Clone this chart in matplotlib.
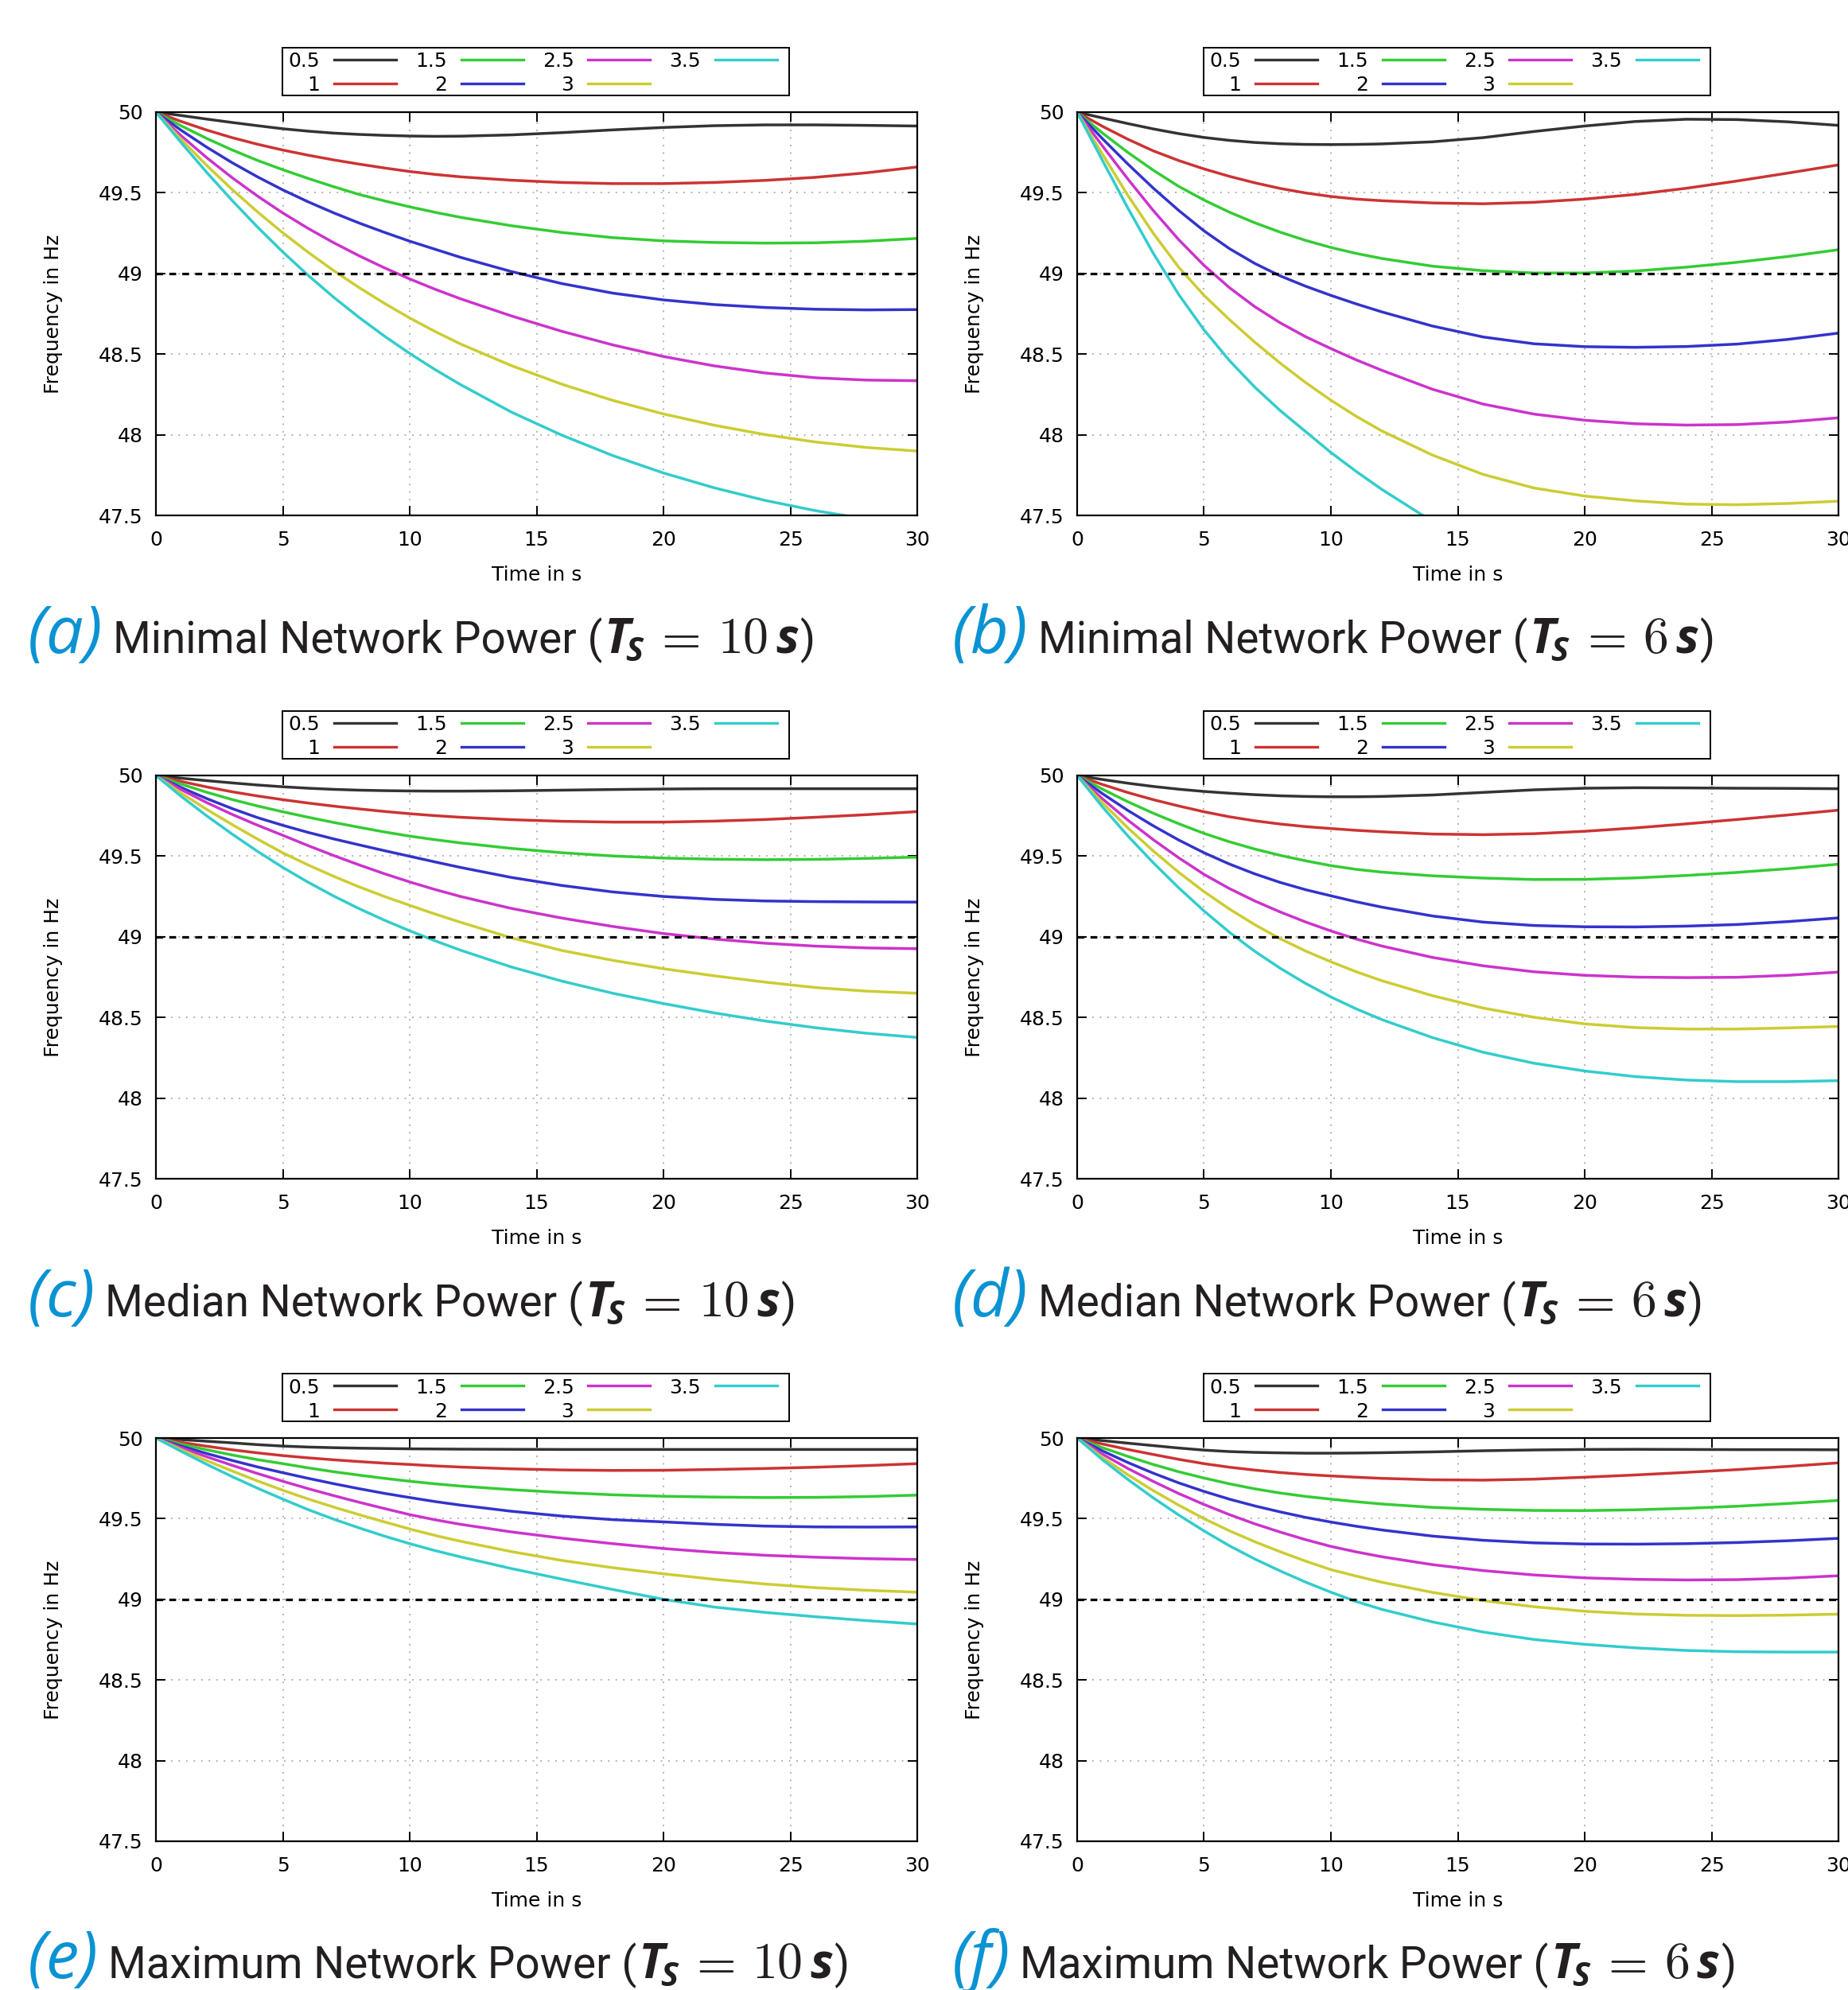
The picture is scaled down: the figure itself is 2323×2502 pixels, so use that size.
import numpy as np
import matplotlib
matplotlib.use("Agg")
import matplotlib.pyplot as plt
from matplotlib.patches import Rectangle
from matplotlib.lines import Line2D

# ---------------- data ----------------
T = [0, 1, 2, 3, 4, 5, 6, 7, 8, 9, 10, 11, 12, 14, 16, 18, 20, 22, 24, 26, 28, 30]
LABELS = ["0.5", "1", "1.5", "2", "2.5", "3", "3.5"]
COLORS = ["#333333", "#cc3333", "#33cc33", "#3333cc", "#cc33cc", "#cccc33", "#33cccc"]
NAN = float("nan")

# (a) Minimal network power, Ts = 10 s
A_05 = [50, 49.979, 49.957, 49.936, 49.916, 49.897, 49.882, 49.87, 49.862, 49.856, 49.852, 49.85, 49.851, 49.859, 49.873, 49.89, 49.905, 49.916, 49.921, 49.921, 49.918, 49.914]
A_10 = [50, 49.942, 49.889, 49.842, 49.801, 49.765, 49.733, 49.704, 49.678, 49.654, 49.632, 49.614, 49.599, 49.578, 49.564, 49.557, 49.557, 49.564, 49.577, 49.596, 49.624, 49.66]
A_15 = [50, 49.915, 49.837, 49.766, 49.701, 49.643, 49.589, 49.538, 49.49, 49.45, 49.413, 49.379, 49.348, 49.296, 49.254, 49.222, 49.202, 49.192, 49.188, 49.19, 49.2, 49.217]
A_20 = [50, 49.887, 49.783, 49.687, 49.599, 49.518, 49.444, 49.376, 49.313, 49.255, 49.2, 49.15, 49.1, 49.012, 48.937, 48.878, 48.836, 48.807, 48.789, 48.778, 48.774, 48.776]
A_25 = [50, 49.853, 49.718, 49.594, 49.48, 49.375, 49.279, 49.191, 49.11, 49.035, 48.966, 48.902, 48.843, 48.737, 48.641, 48.557, 48.485, 48.427, 48.383, 48.353, 48.339, 48.335]
A_30 = [50, 49.83, 49.67, 49.521, 49.382, 49.252, 49.131, 49.018, 48.913, 48.815, 48.724, 48.64, 48.563, 48.429, 48.313, 48.213, 48.129, 48.059, 48.001, 47.955, 47.921, 47.899]
A_35 = [50, 49.81, 49.627, 49.453, 49.288, 49.133, 48.988, 48.853, 48.728, 48.612, 48.504, 48.404, 48.311, 48.141, 47.997, 47.871, 47.763, 47.671, 47.593, 47.529, 47.477, 47.437]

# (b) Minimal network power, Ts = 6 s
B_05 = [50, 49.964, 49.929, 49.896, 49.867, 49.843, 49.825, 49.812, 49.804, 49.8, 49.799, 49.8, 49.803, 49.816, 49.842, 49.88, 49.914, 49.942, 49.956, 49.954, 49.94, 49.918]
B_10 = [50, 49.912, 49.832, 49.76, 49.7, 49.648, 49.602, 49.562, 49.527, 49.499, 49.477, 49.461, 49.451, 49.437, 49.432, 49.441, 49.461, 49.49, 49.528, 49.573, 49.622, 49.673]
B_15 = [50, 49.87, 49.75, 49.64, 49.54, 49.455, 49.38, 49.314, 49.256, 49.205, 49.161, 49.124, 49.093, 49.045, 49.017, 49.003, 49.003, 49.015, 49.039, 49.069, 49.105, 49.147]
B_20 = [50, 49.835, 49.678, 49.529, 49.391, 49.264, 49.154, 49.062, 48.985, 48.921, 48.864, 48.811, 48.762, 48.674, 48.606, 48.564, 48.546, 48.542, 48.547, 48.562, 48.591, 48.63]
B_25 = [50, 49.79, 49.585, 49.39, 49.21, 49.05, 48.912, 48.794, 48.694, 48.608, 48.534, 48.464, 48.40, 48.282, 48.19, 48.128, 48.09, 48.068, 48.06, 48.063, 48.079, 48.105]
B_30 = [50, 49.738, 49.484, 49.249, 49.039, 48.864, 48.714, 48.574, 48.444, 48.324, 48.214, 48.114, 48.024, 47.874, 47.754, 47.67, 47.62, 47.59, 47.57, 47.566, 47.574, 47.588]
B_35 = [50, 49.7, 49.405, 49.125, 48.87, 48.65, 48.46, 48.295, 48.15, 48.02, 47.89, 47.772, 47.662, 47.462, 47.286, NAN, NAN, NAN, NAN, NAN, NAN, NAN]

# (c) Median network power, Ts = 10 s
C_05 = [50, 49.983, 49.968, 49.954, 49.941, 49.93, 49.921, 49.914, 49.909, 49.906, 49.904, 49.903, 49.903, 49.905, 49.909, 49.913, 49.916, 49.918, 49.918, 49.918, 49.918, 49.918]
C_10 = [50, 49.963, 49.929, 49.899, 49.873, 49.85, 49.829, 49.81, 49.793, 49.777, 49.763, 49.751, 49.741, 49.726, 49.716, 49.711, 49.711, 49.717, 49.727, 49.741, 49.757, 49.776]
C_15 = [50, 49.946, 49.896, 49.851, 49.811, 49.775, 49.741, 49.709, 49.679, 49.65, 49.624, 49.602, 49.582, 49.548, 49.521, 49.501, 49.488, 49.481, 49.478, 49.48, 49.486, 49.494]
C_20 = [50, 49.925, 49.857, 49.795, 49.739, 49.691, 49.647, 49.607, 49.57, 49.534, 49.499, 49.464, 49.43, 49.368, 49.318, 49.278, 49.25, 49.232, 49.222, 49.218, 49.216, 49.215]
C_25 = [50, 49.912, 49.832, 49.759, 49.692, 49.629, 49.565, 49.504, 49.446, 49.391, 49.34, 49.293, 49.25, 49.176, 49.116, 49.064, 49.02, 48.986, 48.96, 48.942, 48.931, 48.926]
C_30 = [50, 49.89, 49.79, 49.696, 49.606, 49.52, 49.445, 49.375, 49.31, 49.25, 49.195, 49.141, 49.09, 48.994, 48.915, 48.854, 48.802, 48.758, 48.719, 48.685, 48.663, 48.65]
C_35 = [50, 49.87, 49.75, 49.637, 49.53, 49.43, 49.338, 49.253, 49.175, 49.103, 49.037, 48.975, 48.917, 48.813, 48.725, 48.65, 48.586, 48.528, 48.478, 48.436, 48.402, 48.376]

# (d) Median network power, Ts = 6 s
D_05 = [50, 49.975, 49.952, 49.932, 49.915, 49.901, 49.89, 49.881, 49.874, 49.87, 49.868, 49.868, 49.87, 49.879, 49.895, 49.911, 49.921, 49.924, 49.923, 49.921, 49.92, 49.918]
D_10 = [50, 49.944, 49.894, 49.85, 49.811, 49.775, 49.744, 49.719, 49.699, 49.683, 49.671, 49.66, 49.651, 49.637, 49.633, 49.639, 49.654, 49.675, 49.7, 49.727, 49.755, 49.785]
D_15 = [50, 49.915, 49.837, 49.766, 49.701, 49.641, 49.589, 49.544, 49.505, 49.471, 49.441, 49.418, 49.401, 49.378, 49.364, 49.355, 49.356, 49.365, 49.38, 49.399, 49.422, 49.45]
D_20 = [50, 49.887, 49.783, 49.688, 49.6, 49.521, 49.451, 49.39, 49.337, 49.292, 49.254, 49.217, 49.184, 49.129, 49.091, 49.07, 49.062, 49.061, 49.066, 49.076, 49.094, 49.117]
D_25 = [50, 49.855, 49.723, 49.602, 49.49, 49.387, 49.299, 49.222, 49.154, 49.092, 49.036, 48.986, 48.943, 48.872, 48.82, 48.783, 48.761, 48.75, 48.747, 48.749, 48.761, 48.781]
D_30 = [50, 49.83, 49.675, 49.532, 49.4, 49.28, 49.172, 49.075, 48.988, 48.912, 48.845, 48.783, 48.728, 48.635, 48.558, 48.501, 48.46, 48.437, 48.428, 48.428, 48.435, 48.444]
D_35 = [50, 49.805, 49.625, 49.459, 49.304, 49.16, 49.028, 48.91, 48.805, 48.711, 48.627, 48.553, 48.487, 48.375, 48.284, 48.216, 48.168, 48.133, 48.112, 48.102, 48.102, 48.108]

# (e) Maximum network power, Ts = 10 s
E_05 = [50, 49.99, 49.98, 49.97, 49.959, 49.95, 49.944, 49.94, 49.937, 49.935, 49.933, 49.932, 49.931, 49.93, 49.929, 49.929, 49.929, 49.929, 49.929, 49.929, 49.929, 49.929]
E_10 = [50, 49.973, 49.949, 49.927, 49.908, 49.891, 49.877, 49.865, 49.854, 49.844, 49.836, 49.827, 49.82, 49.809, 49.802, 49.799, 49.8, 49.805, 49.811, 49.819, 49.829, 49.841]
E_15 = [50, 49.962, 49.927, 49.895, 49.866, 49.841, 49.815, 49.791, 49.77, 49.75, 49.732, 49.716, 49.702, 49.68, 49.662, 49.648, 49.639, 49.634, 49.631, 49.632, 49.637, 49.646]
E_20 = [50, 49.95, 49.904, 49.861, 49.821, 49.785, 49.75, 49.717, 49.686, 49.657, 49.631, 49.606, 49.584, 49.546, 49.516, 49.494, 49.48, 49.465, 49.454, 49.449, 49.448, 49.449]
E_25 = [50, 49.94, 49.884, 49.831, 49.78, 49.732, 49.686, 49.643, 49.602, 49.563, 49.525, 49.493, 49.465, 49.418, 49.379, 49.345, 49.315, 49.291, 49.273, 49.261, 49.252, 49.247]
E_30 = [50, 49.928, 49.86, 49.796, 49.734, 49.676, 49.622, 49.572, 49.525, 49.48, 49.436, 49.396, 49.36, 49.296, 49.241, 49.196, 49.158, 49.124, 49.095, 49.072, 49.056, 49.044]
E_35 = [50, 49.917, 49.837, 49.761, 49.689, 49.621, 49.556, 49.497, 49.443, 49.392, 49.345, 49.302, 49.263, 49.191, 49.125, 49.061, 49.0, 48.952, 48.919, 48.892, 48.868, 48.847]

# (f) Maximum network power, Ts = 6 s
F_05 = [50, 49.984, 49.968, 49.953, 49.938, 49.925, 49.916, 49.911, 49.908, 49.906, 49.906, 49.907, 49.909, 49.914, 49.921, 49.926, 49.929, 49.93, 49.929, 49.928, 49.928, 49.927]
F_10 = [50, 49.963, 49.929, 49.898, 49.868, 49.841, 49.819, 49.801, 49.786, 49.774, 49.765, 49.757, 49.75, 49.741, 49.739, 49.745, 49.757, 49.771, 49.787, 49.804, 49.824, 49.846]
F_15 = [50, 49.94, 49.886, 49.836, 49.791, 49.752, 49.716, 49.685, 49.659, 49.638, 49.621, 49.605, 49.591, 49.57, 49.558, 49.551, 49.55, 49.555, 49.564, 49.577, 49.594, 49.613]
F_20 = [50, 49.92, 49.848, 49.782, 49.722, 49.669, 49.621, 49.579, 49.542, 49.508, 49.479, 49.453, 49.43, 49.392, 49.366, 49.35, 49.343, 49.342, 49.345, 49.352, 49.363, 49.378]
F_25 = [50, 49.9, 49.811, 49.731, 49.656, 49.588, 49.525, 49.468, 49.417, 49.37, 49.328, 49.294, 49.264, 49.215, 49.178, 49.151, 49.133, 49.124, 49.12, 49.122, 49.131, 49.146]
F_30 = [50, 49.88, 49.772, 49.674, 49.584, 49.5, 49.425, 49.357, 49.295, 49.237, 49.184, 49.144, 49.106, 49.043, 48.992, 48.954, 48.926, 48.909, 48.901, 48.899, 48.902, 48.908]
F_35 = [50, 49.865, 49.743, 49.629, 49.523, 49.424, 49.332, 49.25, 49.176, 49.107, 49.044, 48.986, 48.938, 48.86, 48.797, 48.751, 48.721, 48.699, 48.683, 48.675, 48.673, 48.673]

PANELS = [
    ("a", "Minimal Network Power", 10, [A_05, A_10, A_15, A_20, A_25, A_30, A_35]),
    ("b", "Minimal Network Power", 6, [B_05, B_10, B_15, B_20, B_25, B_30, B_35]),
    ("c", "Median Network Power", 10, [C_05, C_10, C_15, C_20, C_25, C_30, C_35]),
    ("d", "Median Network Power", 6, [D_05, D_10, D_15, D_20, D_25, D_30, D_35]),
    ("e", "Maximum Network Power", 10, [E_05, E_10, E_15, E_20, E_25, E_30, E_35]),
    ("f", "Maximum Network Power", 6, [F_05, F_10, F_15, F_20, F_25, F_30, F_35]),
]
XTICKS = [0, 5, 10, 15, 20, 25, 30]
YTICKS = [47.5, 48, 48.5, 49, 49.5, 50]
YTICKLABELS = ["47.5", "48", "48.5", "49", "49.5", "50"]
LIMIT = 49.0

# ---------------- layout ----------------
W, H = 2323, 2502
DPI = 100
fig = plt.figure(figsize=(W / DPI, H / DPI), dpi=DPI)
plt.rcParams["font.family"] = ["DejaVu Sans"]

LEFTS = [196, 1354]
TOPS = [141, 975, 1808]
AXW, AXH = 957, 507
CAP_X = [35, 1197]
CAP_BASE = [821, 1655, 2487]
BLUE = "#0a93d3"
DARK = "#231f20"
FS = 18

renderer = fig.canvas.get_renderer()


def caption(x_px, base_px, letter, title, ts):
    def put(x, s, dy=0, **kw):
        t = fig.text(x / W, 1 - (base_px + dy) / H, s, ha="left", va="baseline", **kw)
        return t.get_window_extent(renderer).x1

    x = put(x_px, "(%s)" % letter, family="Open Sans", style="italic", size=60, color=BLUE)
    x = put(x + 12, "%s (" % title, family="Roboto", size=39.5, color=DARK)
    xt = put(x + 3, "T", family="Open Sans", weight="bold", style="italic", size=44, color=DARK)
    x = put(xt - 6, "S", dy=10, family="Open Sans", weight="bold", style="italic", size=30, color=DARK)
    x = put(x + 12, r"$=$", math_fontfamily="cm", size=46, color=DARK)
    x = put(x + 22, r"$%d$" % ts, math_fontfamily="cm", size=46, color=DARK)
    x = put(x + 10, "s", family="Open Sans", weight="bold", style="italic", size=44, color=DARK)
    put(x + 2, ")", family="Roboto", size=39.5, color=DARK)


def legend(ax):
    def fx(px):
        return px / AXW

    def fy(py):  # py: pixels above axes top
        return 1 + py / AXH

    box = Rectangle((fx(159), fy(21)), fx(637), fy(81) - fy(21), transform=ax.transAxes,
                    fill=False, edgecolor="black", linewidth=1.4, clip_on=False, zorder=5)
    ax.add_patch(box)
    rows_y = [fy(66), fy(36)]
    for i, (lab, col) in enumerate(zip(LABELS, COLORS)):
        c, r = divmod(i, 2)
        x0 = fx(224 + 159.7 * c)
        ax.add_line(Line2D([x0, x0 + fx(78)], [rows_y[r], rows_y[r]], transform=ax.transAxes,
                           color=col, linewidth=2.4, clip_on=False, zorder=6))
        ax.text(x0 - fx(18), rows_y[r], lab, transform=ax.transAxes, ha="right",
                va="center_baseline", fontsize=FS, clip_on=False, zorder=6)


for idx, (letter, title, ts, series) in enumerate(PANELS):
    r, c = divmod(idx, 2)
    ax = fig.add_axes([LEFTS[c] / W, 1 - (TOPS[r] + AXH) / H, AXW / W, AXH / H])
    for lab, col, y in zip(LABELS, COLORS, series):
        ax.plot(T, y, color=col, linewidth=2.5, solid_joinstyle="round", zorder=3)
    ax.axhline(LIMIT, color="black", linewidth=2.3, linestyle=(0, (2.7, 2.4)), zorder=4)
    ax.set_xlim(0, 30)
    ax.set_ylim(47.5, 50)
    ax.set_xticks(XTICKS)
    ax.set_xticklabels([str(v) for v in XTICKS])
    ax.set_yticks(YTICKS)
    ax.set_yticklabels(YTICKLABELS)
    ax.grid(True, color="#9a9a9a", linewidth=1.1, linestyle=(0, (1.2, 5.0)), zorder=1)
    ax.tick_params(direction="in", length=8.6, width=1.4, top=True, right=True,
                   labelsize=FS, colors="black")
    ax.tick_params(axis="x", pad=14.0)
    ax.tick_params(axis="y", pad=12.0)
    for sp in ax.spines.values():
        sp.set_linewidth(1.6)
        sp.set_zorder(7)
    ax.text(0.5, -75 / AXH, "Time in s", transform=ax.transAxes, ha="center",
            va="center", fontsize=FS)
    ax.text(-129 / AXW, 0.5, "Frequency in Hz", transform=ax.transAxes, ha="center",
            va="center", rotation=90, fontsize=FS)
    legend(ax)
    caption(CAP_X[c], CAP_BASE[r], letter, title, ts)

fig.savefig("out.png", dpi=DPI)
